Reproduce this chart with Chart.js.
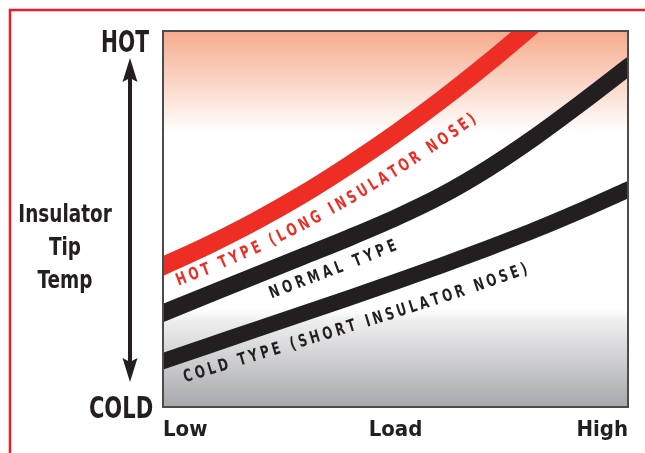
<!DOCTYPE html>
<html>
<head>
<meta charset="utf-8">
<script src="https://cdn.jsdelivr.net/npm/chart.js@4"></script>
<style>
  html, body { margin: 0; padding: 0; background: #ffffff; }
  #wrap { width: 645px; height: 453px; position: relative; }
</style>
</head>
<body>
<div id="wrap"><canvas id="chart"></canvas></div>
<script>
// load steps from Low (0) to High (10)
const loads = [0, 1, 2, 3, 4, 5, 6, 7, 8, 9, 10];

// insulator tip temperature, 0 = COLD, 100 = HOT
const hotType = [37.5, 43.2, 49.5, 56.5, 64.3, 72.7, 81.8, 91.6, 102, null, null];
const normalType = [25, 30, 35, 40, 45, 50.3, 56.3, 63.5, 71.8, 80.9, 90.4];
const coldType = [12.2, 16.4, 20.6, 24.8, 29.0, 33.3, 37.7, 42.3, 47.1, 52.3, 57.8];

// axis text
const xTickValues = [0, 5, 10];
const xTickLabels = ['Low', 'Load', 'High'];
const seriesNames = ['HOT TYPE (LONG INSULATOR NOSE)', 'NORMAL TYPE', 'COLD TYPE (SHORT INSULATOR NOSE)'];

const NARROW = "'Liberation Sans Narrow', 'DejaVu Sans Condensed', 'Liberation Sans', sans-serif";
const RED = '#ee2e24';
const INK = '#231f20';

function toPoints(vals) {
  return loads.map((x, i) => ({ x: x, y: vals[i] }));
}

// draw text squeezed horizontally (the original face is a condensed one)
function narrowText(ctx, txt, x, y, k) {
  ctx.save();
  ctx.translate(x, y);
  ctx.scale(k, 1);
  ctx.fillText(txt, 0, 0);
  ctx.restore();
}

// shaded background: warm on top, grey at the bottom
const bgPlugin = {
  id: 'bg',
  beforeDatasetsDraw(chart) {
    const { ctx, chartArea: a } = chart;
    const g = ctx.createLinearGradient(0, a.top, 0, a.bottom);
    g.addColorStop(0, '#f6ab8c');
    g.addColorStop(0.27, '#ffffff');
    g.addColorStop(0.74, '#ffffff');
    g.addColorStop(0.77, '#efeff0');
    g.addColorStop(1, '#a7a8ab');
    ctx.save();
    ctx.fillStyle = g;
    ctx.fillRect(a.left, a.top, a.right - a.left, a.bottom - a.top);
    ctx.restore();
  }
};

// label text running along each curve
const lineLabels = [
  { ds: 0, from: 0.30, to: 6.70, off: [22, 44], color: RED },
  { ds: 1, from: 2.30, to: 5.01, off: [24.5, 28], color: INK },
  { ds: 2, from: 0.45, to: 7.83, off: [24, 36], color: INK }
];

const curveTextPlugin = {
  id: 'curveText',
  afterDatasetsDraw(chart) {
    const { ctx } = chart;
    const xs = chart.scales.x;
    const squeeze = 0.78;
    lineLabels.forEach(spec => {
      const pts = chart.getDatasetMeta(spec.ds).data
        .filter(p => !p.skip && isFinite(p.y))
        .map(p => ({ x: p.x, y: p.y }));
      const lineY = px => {
        for (let i = 0; i < pts.length - 1; i++) {
          if (px >= pts[i].x && px <= pts[i + 1].x) {
            const t = (px - pts[i].x) / (pts[i + 1].x - pts[i].x);
            return pts[i].y + t * (pts[i + 1].y - pts[i].y);
          }
        }
        return pts[pts.length - 1].y;
      };
      const x0 = xs.getPixelForValue(spec.from);
      const x1 = xs.getPixelForValue(spec.to);
      const guide = [];
      let len = 0;
      for (let px = x0; px <= x1 + 0.01; px += 0.5) {
        const t = (px - x0) / (x1 - x0);
        const y = lineY(px) + spec.off[0] + (spec.off[1] - spec.off[0]) * t;
        if (guide.length) {
          const p = guide[guide.length - 1];
          len += Math.hypot(px - p.x, y - p.y);
        }
        guide.push({ x: px, y: y, s: len });
      }
      const at = s => {
        let i = 0;
        while (i < guide.length - 2 && guide[i + 1].s < s) i++;
        const a = guide[Math.max(0, i - 8)], b = guide[Math.min(guide.length - 1, i + 8)];
        const p = guide[i], q = guide[i + 1];
        const t = (s - p.s) / ((q.s - p.s) || 1);
        return { x: p.x + t * (q.x - p.x), y: p.y + t * (q.y - p.y), ang: Math.atan2(b.y - a.y, b.x - a.x) };
      };
      const text = seriesNames[spec.ds];
      ctx.save();
      ctx.font = 'bold 17px ' + NARROW;
      ctx.fillStyle = spec.color;
      ctx.textAlign = 'center';
      ctx.textBaseline = 'middle';
      const chars = text.split('');
      const widths = chars.map(c => ctx.measureText(c).width * squeeze);
      const total = widths.reduce((s, w) => s + w, 0);
      const gap = (len - total) / (chars.length - 1);
      let s = 0;
      chars.forEach((c, i) => {
        const p = at(s + widths[i] / 2);
        ctx.save();
        ctx.translate(p.x, p.y);
        ctx.rotate(p.ang);
        ctx.scale(squeeze, 1);
        ctx.fillText(c, 0, 0);
        ctx.restore();
        s += widths[i] + gap;
      });
      ctx.restore();
    });
  }
};

// frame, plot border, HOT/COLD arrow and axis title
const decorPlugin = {
  id: 'decor',
  afterDraw(chart) {
    const { ctx, chartArea: a } = chart;
    ctx.save();
    // plot border
    ctx.strokeStyle = '#4e4b4b';
    ctx.lineWidth = 2;
    ctx.strokeRect(a.left, a.top, a.right - a.left, a.bottom - a.top);
    // red frame (left and top)
    ctx.strokeStyle = '#ed1c24';
    ctx.lineWidth = 2.5;
    ctx.beginPath();
    ctx.moveTo(10, chart.height + 2);
    ctx.lineTo(10, 10);
    ctx.lineTo(chart.width + 2, 10);
    ctx.stroke();
    // arrow
    ctx.strokeStyle = INK;
    ctx.fillStyle = INK;
    ctx.lineWidth = 4;
    ctx.beginPath();
    ctx.moveTo(130, 75);
    ctx.lineTo(130, 365);
    ctx.stroke();
    ctx.beginPath();
    ctx.moveTo(130, 58); ctx.lineTo(137.5, 82); ctx.lineTo(130, 78); ctx.lineTo(122.5, 82);
    ctx.closePath(); ctx.fill();
    ctx.beginPath();
    ctx.moveTo(130, 382); ctx.lineTo(137.5, 358); ctx.lineTo(130, 362); ctx.lineTo(122.5, 358);
    ctx.closePath(); ctx.fill();
    // HOT / COLD
    ctx.textAlign = 'center';
    ctx.textBaseline = 'alphabetic';
    ctx.font = 'bold 30px ' + NARROW;
    narrowText(ctx, 'HOT', 125, 52, 0.75);
    narrowText(ctx, 'COLD', 121, 418, 0.78);
    // axis title
    ctx.font = 'bold 25px ' + NARROW;
    narrowText(ctx, 'Insulator', 65, 222, 0.82);
    narrowText(ctx, 'Tip', 65, 255, 0.82);
    narrowText(ctx, 'Temp', 65, 288, 0.82);
    ctx.restore();
  }
};

const common = {
  pointRadius: 0,
  pointHoverRadius: 0,
  fill: false,
  cubicInterpolationMode: 'monotone',
  borderCapStyle: 'square',
  clip: 0
};

new Chart(document.getElementById('chart'), {
  type: 'line',
  data: {
    datasets: [
      Object.assign({ label: seriesNames[0], data: toPoints(hotType), borderColor: RED, borderWidth: 18 }, common),
      Object.assign({ label: seriesNames[1], data: toPoints(normalType), borderColor: INK, borderWidth: 17 }, common),
      Object.assign({ label: seriesNames[2], data: toPoints(coldType), borderColor: INK, borderWidth: 16 }, common)
    ]
  },
  options: {
    responsive: true,
    maintainAspectRatio: false,
    animation: false,
    layout: { padding: { left: 163, right: 17, top: 31, bottom: 0 } },
    plugins: {
      legend: { display: false },
      tooltip: { enabled: false }
    },
    scales: {
      x: {
        type: 'linear',
        min: 0,
        max: 10,
        afterBuildTicks: s => { s.ticks = xTickValues.map(v => ({ value: v })); },
        afterFit: s => { s.height = 46; },
        grid: { display: false, drawTicks: false },
        border: { display: false },
        ticks: {
          align: 'inner',
          padding: 10,
          maxRotation: 0,
          color: INK,
          font: { family: NARROW, size: 22, weight: 'bold' },
          callback: v => xTickLabels[xTickValues.indexOf(v)]
        }
      },
      y: {
        display: false,
        min: 0,
        max: 100
      }
    }
  },
  plugins: [bgPlugin, curveTextPlugin, decorPlugin]
});
</script>
</body>
</html>
